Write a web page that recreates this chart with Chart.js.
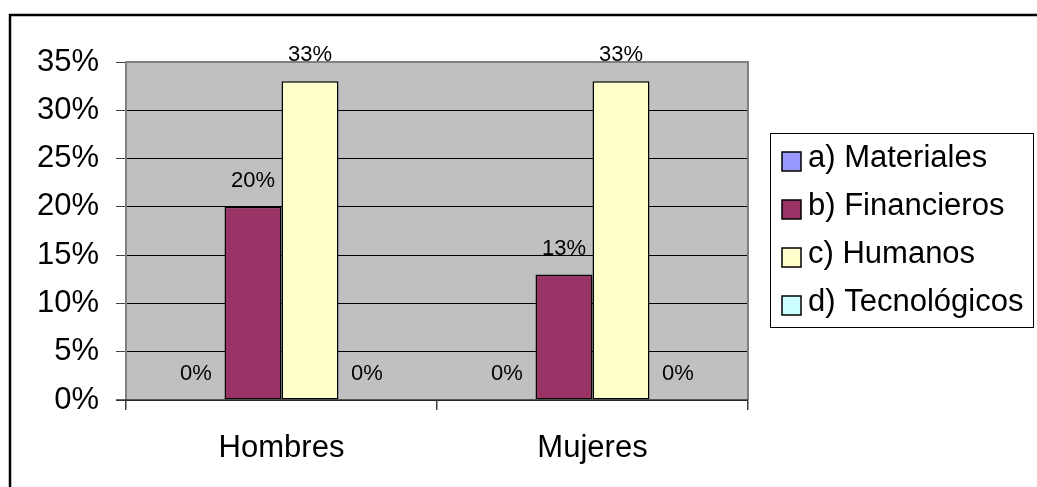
<!DOCTYPE html>
<html>
<head>
<meta charset="utf-8">
<script src="https://cdn.jsdelivr.net/npm/chart.js@4.4.0/dist/chart.umd.min.js"></script>
<style>
  html, body { margin: 0; padding: 0; background: #fff; }
  #wrap { width: 1037px; height: 487px; }
</style>
</head>
<body>
<div id="wrap"><canvas id="canvas" width="1037" height="487"></canvas></div>
<script>
"use strict";
// grupos y series (porcentajes)
var grupos = ["Hombres", "Mujeres"];
var series = ["a) Materiales", "b) Financieros", "c) Humanos", "d) Tecnológicos"];
var materiales = [0, 0];
var financieros = [20, 13];
var humanos = [33, 33];
var tecnologicos = [0, 0];
var colores = ["#9999FF", "#993366", "#FFFFCC", "#CCFFFF"];
var ticksY = [0, 5, 10, 15, 20, 25, 30, 35];

var FONT = "'Liberation Sans', Arial, sans-serif";

// fondo gris del area de trazado
var fondo = {
  id: "fondo",
  beforeDraw: function(chart) {
    var c = chart.ctx, a = chart.chartArea;
    c.save();
    c.fillStyle = "#fff";
    c.fillRect(0, 0, chart.width, chart.height);
    c.fillStyle = "#C0C0C0";
    c.fillRect(a.left, a.top, a.right - a.left, a.bottom - a.top);
    c.restore();
  },
  afterDraw: function(chart) {
    var c = chart.ctx, a = chart.chartArea;
    c.save();
    // borde del area de trazado
    c.strokeStyle = "#808080";
    c.lineWidth = 2;
    c.beginPath();
    c.moveTo(a.left, a.bottom);
    c.lineTo(a.left, a.top);
    c.lineTo(a.right, a.top);
    c.lineTo(a.right, a.bottom);
    c.stroke();
    c.strokeStyle = "#333";
    c.lineWidth = 1.5;
    c.beginPath();
    c.moveTo(a.left - 10, a.bottom);
    c.lineTo(a.right, a.bottom);
    c.stroke();
    // marco exterior
    c.strokeStyle = "#000";
    c.lineWidth = 2.5;
    c.beginPath();
    c.moveTo(10, chart.height);
    c.lineTo(10, 15);
    c.lineTo(chart.width, 15);
    c.stroke();
    c.restore();
  }
};

// etiquetas de valor sobre cada barra
var etiquetas = {
  id: "etiquetas",
  afterDatasetsDraw: function(chart) {
    var c = chart.ctx;
    c.save();
    c.font = "22px " + FONT;
    c.fillStyle = "#000";
    c.textAlign = "center";
    c.textBaseline = "middle";
    chart.data.datasets.forEach(function(ds, i) {
      chart.getDatasetMeta(i).data.forEach(function(bar, j) {
        c.fillText(ds.data[j] + "%", bar.x, bar.y - 26);
      });
    });
    c.restore();
  }
};

// leyenda con recuadro a la derecha
var leyenda = {
  id: "leyenda",
  afterDraw: function(chart) {
    var c = chart.ctx;
    var x0 = 770, y0 = 133, w = 263, h = 194;
    c.save();
    c.strokeStyle = "#000";
    c.lineWidth = 1;
    c.strokeRect(x0 + 0.5, y0 + 0.5, w, h);
    c.font = "31px " + FONT;
    c.textBaseline = "middle";
    c.textAlign = "left";
    chart.data.datasets.forEach(function(ds, i) {
      var yc = 158 + i * 48;
      c.fillStyle = ds.backgroundColor;
      c.fillRect(782, yc - 6, 19, 19);
      c.strokeStyle = "#000";
      c.lineWidth = 1.5;
      c.strokeRect(782, yc - 6, 19, 19);
      c.fillStyle = "#000";
      c.fillText(ds.label, 808, yc);
    });
    c.restore();
  }
};

var datos = [materiales, financieros, humanos, tecnologicos];

new Chart(document.getElementById("canvas"), {
  type: "bar",
  data: {
    labels: grupos,
    datasets: series.map(function(nombre, i) {
      return {
        label: nombre,
        data: datos[i],
        backgroundColor: colores[i],
        borderColor: "#000",
        borderWidth: 1.5,
        borderSkipped: false,
        categoryPercentage: 0.733,
        barPercentage: 1.0
      };
    })
  },
  options: {
    responsive: false,
    animation: false,
    layout: { padding: { left: 0, top: 62, right: 289, bottom: 0 } },
    plugins: {
      legend: { display: false },
      tooltip: { enabled: false }
    },
    scales: {
      y: {
        min: 0,
        max: 35,
        afterFit: function(scale) { scale.width = 126; },
        afterBuildTicks: function(scale) {
          scale.ticks = ticksY.map(function(v) { return { value: v }; });
        },
        ticks: {
          padding: 17,
          color: "#000",
          font: { family: FONT, size: 31 },
          callback: function(v) { return v + "%"; }
        },
        grid: {
          color: function(ctx) { return ctx.tick && ctx.tick.value === 35 ? "#808080" : "#000"; },
          tickColor: "#404040",
          tickLength: 10,
          lineWidth: 1
        },
        border: { display: false }
      },
      x: {
        afterFit: function(scale) { scale.height = 87; },
        ticks: {
          padding: 20,
          color: "#000",
          font: { family: FONT, size: 31 }
        },
        grid: {
          offset: true,
          drawOnChartArea: false,
          tickLength: 10,
          tickColor: "#404040",
          lineWidth: 1.5
        },
        border: { display: false }
      }
    }
  },
  plugins: [fondo, etiquetas, leyenda]
});
</script>
</body>
</html>
